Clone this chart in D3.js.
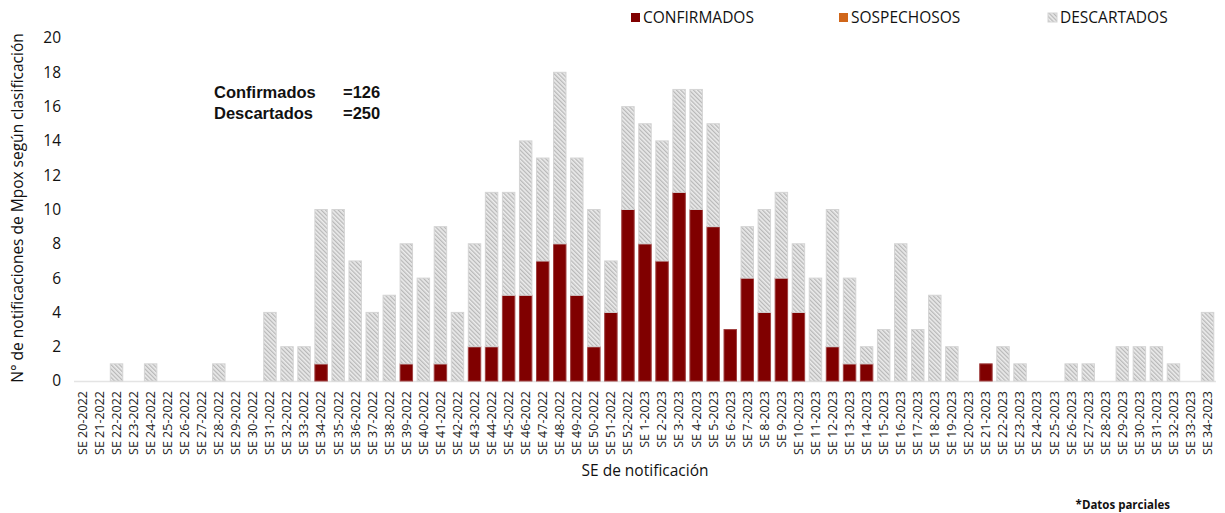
<!DOCTYPE html>
<html>
<head>
<meta charset="utf-8">
<script src="https://cdn.jsdelivr.net/npm/d3@7"></script>
<style>
  body { margin: 0; background: #fff; }
  svg { display: block; }
</style>
</head>
<body>
<svg id="chart" width="1225" height="513"></svg>
<script>
// semanas epidemiologicas
var semanas = [];
for (var s = 20; s <= 52; s++) semanas.push("SE " + s + "-2022");
for (var s2 = 1; s2 <= 34; s2++) semanas.push("SE " + s2 + "-2023");

var confirmados = [0,0,0,0,0,0,0,0,0,0,0,0,0,0,1,0,0,0,0,1,0,1,0,2,2,5,5,7,8,5,2,4,10,
                   8,7,11,10,9,3,6,4,6,4,0,2,1,1,0,0,0,0,0,0,1,0,0,0,0,0,0,0,0,0,0,0,0,0];
var sospechosos = [0,0,0,0,0,0,0,0,0,0,0,0,0,0,0,0,0,0,0,0,0,0,0,0,0,0,0,0,0,0,0,0,0,
                   0,0,0,0,0,0,0,0,0,0,0,0,0,0,0,0,0,0,0,0,0,0,0,0,0,0,0,0,0,0,0,0,0,0];
var descartados = [0,0,1,0,1,0,0,0,1,0,0,4,2,2,9,10,7,4,5,7,6,8,4,6,9,6,9,6,10,8,8,3,6,
                   7,7,6,7,6,0,3,6,5,4,6,8,5,1,3,8,3,5,2,0,0,2,1,0,0,1,1,0,2,2,2,1,0,4];
var yTicks = [0,2,4,6,8,10,12,14,16,18,20];

var series = ["confirmados", "sospechosos", "descartados"];
var tabla = semanas.map(function(d, i) {
  return { semana: d, confirmados: confirmados[i], sospechosos: sospechosos[i], descartados: descartados[i] };
});

var svg = d3.select("#chart");

// patron rayado para descartados
var defs = svg.append("defs");
var pat = defs.append("pattern")
    .attr("id", "rayas")
    .attr("patternUnits", "userSpaceOnUse")
    .attr("width", 3).attr("height", 3)
    .attr("patternTransform", "rotate(-45)");
pat.append("rect").attr("width", 3).attr("height", 3).attr("fill", "#ececec");
pat.append("rect").attr("width", 1.3).attr("height", 3).attr("fill", "#b8b8b8");

var x = d3.scaleBand()
    .domain(semanas)
    .range([74, 1216])
    .paddingInner(0.27)
    .paddingOuter(0.13);

var y = d3.scaleLinear()
    .domain([0, 20])
    .range([381, 38]);

var colores = { confirmados: "#800000", sospechosos: "#d0661a", descartados: "url(#rayas)" };
var bordes = { confirmados: "#a04040", sospechosos: "#d0661a", descartados: "#d4d4d4" };

var stack = d3.stack().keys(series)(tabla);

// linea base
svg.append("line")
    .attr("x1", 74).attr("x2", 1216)
    .attr("y1", y(0) + 0.5).attr("y2", y(0) + 0.5)
    .attr("stroke", "#e4e4e4").attr("stroke-width", 1.5);

svg.append("g").selectAll("g")
    .data(stack)
    .enter().append("g")
    .attr("fill", function(d) { return colores[d.key]; })
    .attr("stroke", function(d) { return bordes[d.key]; })
    .selectAll("rect")
    .data(function(d) { return d.filter(function(p) { return p[1] > p[0]; }); })
    .enter().append("rect")
    .attr("x", function(d) { return x(d.data.semana); })
    .attr("width", x.bandwidth())
    .attr("y", function(d) { return y(d[1]); })
    .attr("height", function(d) { return y(d[0]) - y(d[1]); })
    .attr("stroke-width", 1);

// eje Y
var yAxis = svg.append("g")
    .attr("transform", "translate(61,0)")
    .call(d3.axisLeft(y).tickValues(yTicks).tickSize(0).tickPadding(0));
yAxis.select(".domain").remove();
yAxis.selectAll("text")
    .style("font-family", "'Open Sans', sans-serif")
    .style("font-size", "15.5px")
    .attr("fill", "#111");

// eje X
var xAxis = svg.append("g")
    .attr("transform", "translate(0," + 391 + ")")
    .call(d3.axisBottom(x).tickSize(0).tickPadding(0));
xAxis.select(".domain").remove();
xAxis.selectAll("text")
    .attr("transform", "rotate(-90)")
    .attr("x", 0).attr("y", 0).attr("dy", "0.35em")
    .style("text-anchor", "end")
    .style("font-family", "'Open Sans', sans-serif")
    .style("font-size", "12.5px")
    .attr("fill", "#222");

// titulos
svg.append("text")
  .attr("transform", "rotate(-90)")
  .attr("x", -208).attr("y", 23)
  .style("text-anchor", "middle")
  .style("font-family", "'Open Sans', sans-serif")
  .style("font-size", "15.5px")
  .attr("fill", "#111")
  .text("N° de notificaciones de Mpox según clasificación");

svg.append("text")
  .attr("x", 645).attr("y", 476)
  .style("text-anchor", "middle")
  .style("font-family", "'Open Sans', sans-serif")
  .style("font-size", "15.5px")
  .attr("fill", "#111")
  .text("SE de notificación");

svg.append("text")
  .attr("x", 1170).attr("y", 509)
  .style("text-anchor", "end")
  .style("font-family", "'Open Sans', sans-serif")
  .style("font-size", "11.5px")
  .style("font-weight", "bold")
  .attr("fill", "#111")
  .text("*Datos parciales");

// totales
var totalConf = d3.sum(confirmados);
var totalDesc = d3.sum(descartados);
var notas = [["Confirmados", "=" + totalConf], ["Descartados", "=" + totalDesc]];
notas.forEach(function(n, i) {
  svg.append("text")
    .attr("x", 214).attr("y", 98 + i * 21)
    .style("font-family", "'Liberation Sans', Arial, sans-serif")
    .style("font-size", "16.5px").style("font-weight", "bold")
    .attr("fill", "#111")
    .text(n[0]);
  svg.append("text")
    .attr("x", 343).attr("y", 98 + i * 21)
    .style("font-family", "'Liberation Sans', Arial, sans-serif")
    .style("font-size", "16.5px").style("font-weight", "bold")
    .attr("fill", "#111")
    .text(n[1]);
});

// leyenda
var leyenda = [
  { nombre: "CONFIRMADOS", x: 631, key: "confirmados" },
  { nombre: "SOSPECHOSOS", x: 839, key: "sospechosos" },
  { nombre: "DESCARTADOS", x: 1048, key: "descartados" }
];
var lg = svg.append("g").selectAll("g")
    .data(leyenda)
    .enter().append("g")
    .attr("transform", function(d) { return "translate(" + d.x + ",13)"; });
lg.append("rect")
    .attr("width", 9).attr("height", 9)
    .attr("fill", function(d) { return colores[d.key]; })
    .attr("stroke", function(d) { return d.key == "descartados" ? "#d4d4d4" : "none"; });
lg.append("text")
    .attr("x", 12).attr("y", 4.5).attr("dy", "0.36em")
    .style("font-family", "'Open Sans', sans-serif")
    .style("font-size", "15.5px")
    .attr("fill", "#111")
    .text(function(d) { return d.nombre; });
</script>
</body>
</html>
